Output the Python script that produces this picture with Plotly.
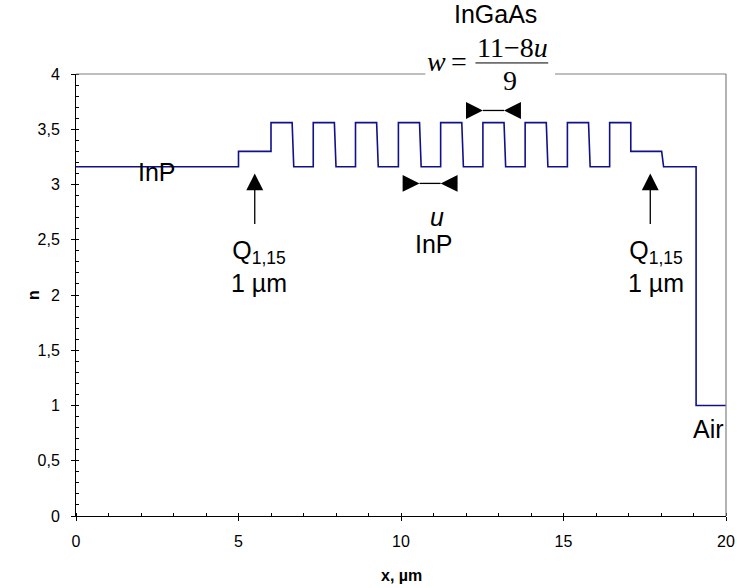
import plotly.graph_objects as go

# Refractive index profile n(x)
x_um = [0, 5, 5, 6, 6, 6.65, 6.7, 7.3, 7.3, 7.95, 8.0, 8.6, 8.6, 9.25, 9.3,
        9.92, 9.92, 10.57, 10.62, 11.22, 11.22, 11.87, 11.92, 12.52, 12.52,
        13.17, 13.22, 13.82, 13.82, 14.47, 14.52, 15.12, 15.12, 15.77, 15.82,
        16.42, 16.42, 17.07, 17.07, 18.02, 18.08, 19.08, 19.08, 20]
n_index = [3.16, 3.16, 3.30, 3.30, 3.56, 3.56, 3.16, 3.16, 3.56, 3.56, 3.16,
           3.16, 3.56, 3.56, 3.16, 3.16, 3.56, 3.56, 3.16, 3.16, 3.56, 3.56,
           3.16, 3.16, 3.56, 3.56, 3.16, 3.16, 3.56, 3.56, 3.16, 3.16, 3.56,
           3.56, 3.16, 3.16, 3.56, 3.56, 3.30, 3.30, 3.16, 3.16, 1.00, 1.00]

x_ticks = [0, 5, 10, 15, 20]
y_ticks = [0, 0.5, 1, 1.5, 2, 2.5, 3, 3.5, 4]

SANS = "Liberation Sans, Arial, sans-serif"
SERIF = "Liberation Serif, Times New Roman, serif"
LBL = 25
FRM = 28

fig = go.Figure()
fig.add_trace(go.Scatter(x=x_um, y=n_index, mode="lines",
                         line=dict(color="#10108a", width=1.6),
                         showlegend=False, hoverinfo="skip"))

ann = []

def txt(x, y, t, size=LBL, font=SANS, yref="y", **kw):
    ann.append(dict(x=x, y=y, xref="x", yref=yref, text=t, showarrow=False,
                    xanchor="center", yanchor="middle",
                    font=dict(family=font, size=size, color="black"), **kw))

def arrow(x, y, ax, ay, absolute=True):
    d = dict(x=x, y=y, xref="x", yref="y", text="", showarrow=True,
             arrowhead=2, arrowsize=2.6, arrowwidth=1.3, arrowcolor="black",
             standoff=0, startstandoff=0)
    if absolute:
        d.update(ax=ax, ay=ay, axref="x", ayref="y")
    else:
        d.update(ax=ax, ay=ay)
    ann.append(d)

# Left labels
txt(2.5, 3.11, "InP")
arrow(5.5, 3.10, 5.5, 2.63)
txt(5.62, 2.26, "Q<sub>1,15</sub><br>1 µm")
# Right labels
arrow(17.67, 3.10, 17.67, 2.63)
txt(17.85, 2.26, "Q<sub>1,15</sub><br>1 µm")
txt(19.47, 0.79, "Air")
# u / InP
arrow(10.57, 3.01, -18, 0, absolute=False)
arrow(11.22, 3.01, 18, 0, absolute=False)
txt(11.1, 2.71, "<i>u</i>")
txt(11.03, 2.46, "InP")
# w / InGaAs
arrow(12.52, 3.67, -18, 0, absolute=False)
arrow(13.17, 3.67, 18, 0, absolute=False)
txt(12.9, 4.54 / 4, "InGaAs", yref="paper")
txt(11.1, 4.11 / 4, "<i>w</i>", size=FRM, font=SERIF, yref="paper")
txt(11.77, 4.11 / 4, "=", size=FRM, font=SERIF, yref="paper")
txt(13.42, 4.24 / 4, "11−8<i>u</i>", size=FRM, font=SERIF, yref="paper")
txt(13.36, 3.94 / 4, "9", size=FRM, font=SERIF, yref="paper")

shapes = [
    # arrow connecting segments
    dict(type="line", x0=10.57, x1=11.22, y0=3.01, y1=3.01, xref="x", yref="y",
         line=dict(color="black", width=1.3)),
    dict(type="line", x0=12.52, x1=13.17, y0=3.67, y1=3.67, xref="x", yref="y",
         line=dict(color="black", width=1.3)),
    # fraction bar
    dict(type="line", x0=12.29, x1=14.53, y0=4.1 / 4, y1=4.1 / 4, xref="x", yref="paper",
         line=dict(color="black", width=1)),
    # top border (with gap for formula) and right border
    dict(type="line", x0=0, x1=10.75, y0=1, y1=1, xref="x", yref="paper",
         line=dict(color="#808080", width=1.2)),
    dict(type="line", x0=14.74, x1=20, y0=1, y1=1, xref="x", yref="paper",
         line=dict(color="#808080", width=1.2)),
    dict(type="line", x0=1, x1=1, y0=0, y1=1, xref="paper", yref="paper",
         line=dict(color="#808080", width=1.2)),
]

# Axis titles
ann.append(dict(x=0.5, y=-0.134, xref="paper", yref="paper", text="<b>x, µm</b>",
                showarrow=False, xanchor="center", yanchor="middle",
                font=dict(family=SANS, size=16, color="black")))
ann.append(dict(x=-0.066, y=0.5, xref="paper", yref="paper", text="<b>n</b>",
                showarrow=False, textangle=-90, xanchor="center", yanchor="middle",
                font=dict(family=SANS, size=16, color="black")))

fig.update_layout(
    width=737, height=588, autosize=False,
    margin=dict(l=76, r=11, t=74, b=72, autoexpand=False),
    paper_bgcolor="white", plot_bgcolor="white",
    separators=", ",
    annotations=ann, shapes=shapes,
    xaxis=dict(range=[0, 20], tickvals=x_ticks, showgrid=False, zeroline=False,
               showline=True, linecolor="black", linewidth=1, automargin=False,
               ticks="outside", ticklen=4, tickcolor="black",
               ticklabelstandoff=7,
               minor=dict(dtick=1, ticks="inside", ticklen=3, tickcolor="black"),
               tickfont=dict(family=SANS, size=16, color="black")),
    yaxis=dict(range=[0, 4], tickvals=y_ticks, showgrid=False, zeroline=False,
               showline=True, linecolor="black", linewidth=1, automargin=False,
               ticks="outside", ticklen=4, tickcolor="black",
               ticklabelstandoff=8,
               minor=dict(dtick=0.1, ticks="inside", ticklen=3, tickcolor="black"),
               tickfont=dict(family=SANS, size=16, color="black")),
)

fig.write_html("out.html", config={"displayModeBar": False},
               post_script="document.body.style.margin='0';")
